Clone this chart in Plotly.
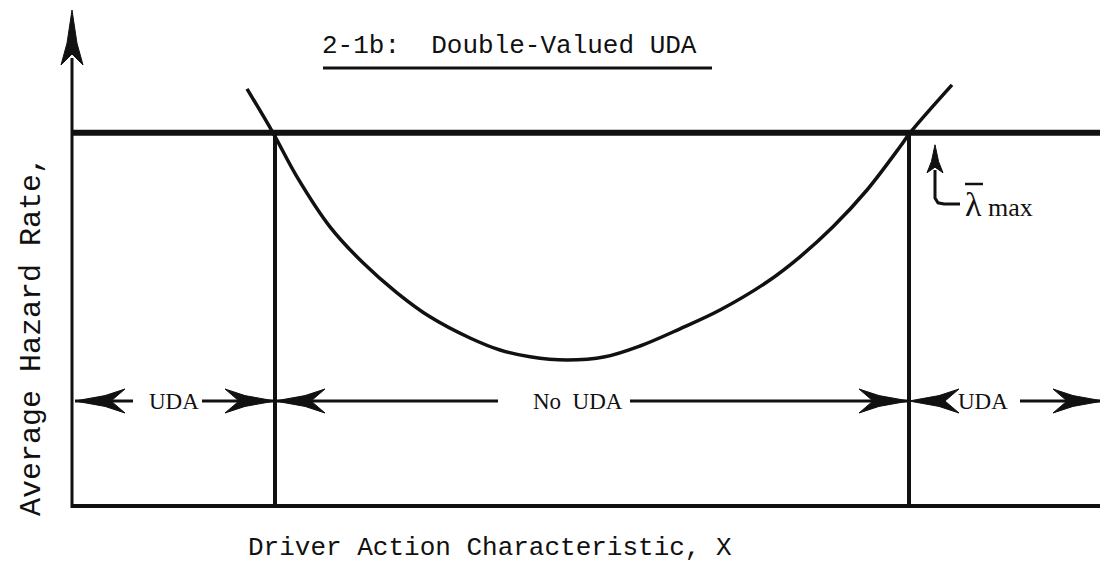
import plotly.graph_objects as go

# ---- data (abstract units: X = driver action characteristic, Y = average hazard rate)
curve_x = [1.75, 2.01, 2.25, 2.58, 2.91, 3.25, 3.58, 3.98, 4.28, 4.58, 4.95,
           5.33, 5.68, 6.08, 6.48, 6.95, 7.28, 7.61, 7.95, 8.28, 8.38, 8.80]
curve_y = [10.43, 9.33, 8.23, 6.98, 6.08, 5.33, 4.73, 4.20, 3.90, 3.73, 3.65,
           3.73, 4.00, 4.43, 4.90, 5.60, 6.23, 6.98, 7.90, 8.98, 9.33, 10.53]

lambda_max = 9.33          # horizontal threshold line
uda_bounds = [2.03, 8.37]  # where curve crosses lambda max
x_end = 10.28
y_end = 12.4
arrow_level = 2.625

region_labels = ["UDA", "No\u00a0\u00a0UDA", "UDA"]
region_label_x = [1.02, 5.06, 9.11]
# arrow shaft segments (start, end) per region
shafts = [(0.03, 0.61), (1.30, 2.03), (2.03, 4.26), (5.58, 8.37), (9.48, 10.31)]
# arrow heads: (tip x, direction)
heads = [(0.03, -1), (2.03, 1), (2.03, -1), (8.37, 1), (8.37, -1), (10.31, 1)]

title_text = "2-1b:\u00a0\u00a0Double-Valued UDA"
x_title = "Driver Action Characteristic, X"
y_title = "Average Hazard Rate,"
lambda_label = '<span style="font-size:34px">λ</span> max'

# pixel scale of units (styling helpers)
PX_X, PX_Y = 100.0, 40.0
BLACK = "#111111"

fig = go.Figure()


def line(xs, ys, w):
    fig.add_trace(go.Scatter(x=xs, y=ys, mode="lines",
                             line=dict(color=BLACK, width=w),
                             hoverinfo="skip", showlegend=False))


def hhead(tx, ty, d, L=50, W=12):
    b = tx - d * L / PX_X
    n = tx - d * 0.72 * L / PX_X
    xs = [tx, tx - d * 0.6 * L / PX_X, b, n, b, tx - d * 0.6 * L / PX_X, tx]
    ys = [ty, ty + 0.45 * W / PX_Y, ty + W / PX_Y, ty, ty - W / PX_Y, ty - 0.45 * W / PX_Y, ty]
    fig.add_trace(go.Scatter(x=xs, y=ys, mode="lines", fill="toself",
                             fillcolor=BLACK, line=dict(color=BLACK, width=1),
                             hoverinfo="skip", showlegend=False))


def vhead(tx, ty, L=55, W=11):
    b = ty - L / PX_Y
    n = ty - 0.8 * L / PX_Y
    xs = [tx, tx + 0.45 * W / PX_X, tx + W / PX_X, tx, tx - W / PX_X, tx - 0.45 * W / PX_X, tx]
    ys = [ty, ty - 0.6 * L / PX_Y, b, n, b, ty - 0.6 * L / PX_Y, ty]
    fig.add_trace(go.Scatter(x=xs, y=ys, mode="lines", fill="toself",
                             fillcolor=BLACK, line=dict(color=BLACK, width=1),
                             hoverinfo="skip", showlegend=False))


# axes
line([0, 0], [-0.05, y_end - 1.2], 3)
vhead(0, y_end)
line([0, x_end], [0, 0], 4)

# lambda max line and boundaries
line([0, x_end], [lambda_max, lambda_max], 6)
for b in uda_bounds:
    line([b, b], [0, lambda_max], 4)

# hazard curve
fig.add_trace(go.Scatter(x=curve_x, y=curve_y, mode="lines",
                         line=dict(color=BLACK, width=3.5, shape="spline"),
                         hoverinfo="skip", showlegend=False))

# region arrows
for s, e in shafts:
    line([s, e], [arrow_level, arrow_level], 3)
for tx, d in heads:
    hhead(tx, arrow_level, d)

# lambda max pointer
lam_x = 8.63
vhead(lam_x, 9.03, L=28, W=8)
line([lam_x, lam_x, lam_x + 0.03, lam_x + 0.09, 8.88], [8.4, 7.7, 7.58, 7.55, 7.55], 3)
# overbar on lambda
line([8.93, 9.11], [8.05, 8.05], 2.5)

ann = []
for txt, xx in zip(region_labels, region_label_x):
    ann.append(dict(x=xx, y=arrow_level, text=txt, showarrow=False,
                    font=dict(family="Liberation Serif", size=23, color=BLACK),
                    xanchor="center", yanchor="middle"))
ann.append(dict(x=8.91, y=7.55, text=lambda_label, showarrow=False,
                font=dict(family="Liberation Serif", size=26, color=BLACK),
                xanchor="left", yanchor="middle"))
ann.append(dict(x=4.37, y=11.5, text=title_text, showarrow=False,
                font=dict(family="Liberation Mono", size=26, color=BLACK),
                xanchor="center", yanchor="middle"))
ann.append(dict(x=4.18, y=-1.05, text=x_title, showarrow=False,
                font=dict(family="Liberation Mono", size=26, color=BLACK),
                xanchor="center", yanchor="middle"))
ann.append(dict(x=-0.40, y=4.25, text=y_title, showarrow=False, textangle=-90,
                font=dict(family="Liberation Mono", size=30, color=BLACK),
                xanchor="center", yanchor="middle"))

# title underline
line([2.51, 6.40], [10.95, 10.95], 3)

# figure is offset by the page's 8px body margin; ranges compensate
fig.update_layout(
    width=1100, height=560,
    margin=dict(l=0, r=0, t=0, b=0),
    paper_bgcolor="white", plot_bgcolor="white",
    showlegend=False,
    annotations=ann,
    xaxis=dict(range=[-0.64, 10.36], visible=False, fixedrange=True),
    yaxis=dict(range=[-1.55, 12.45], visible=False, fixedrange=True),
)

fig.write_html("out.html")
